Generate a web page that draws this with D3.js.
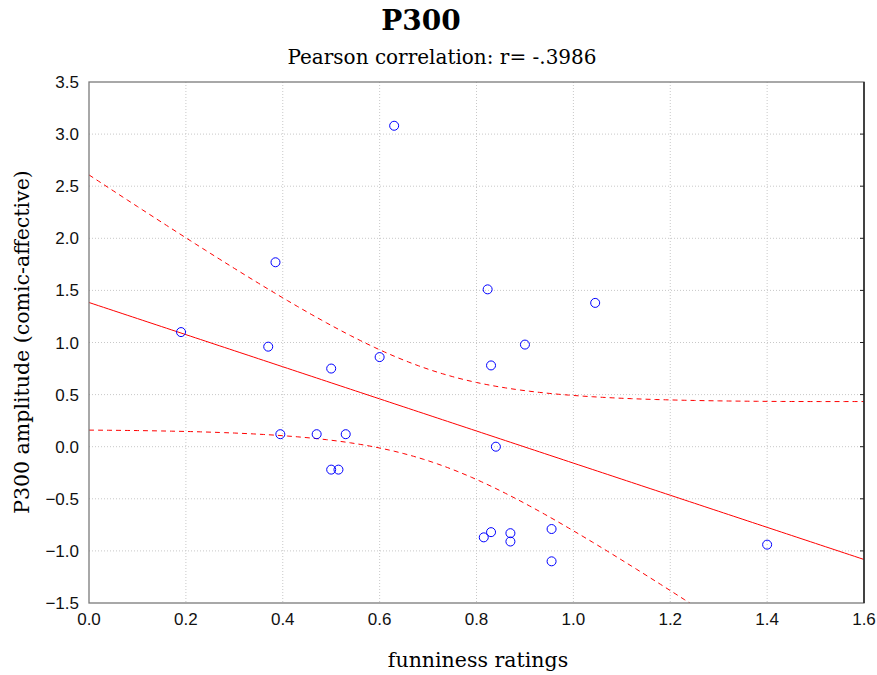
<!DOCTYPE html>
<html lang="en">
  <head>
    <meta charset="UTF-8" />
    <title>P300</title>
    <script src="https://cdn.jsdelivr.net/npm/d3@7"></script>
    <style>
      body { margin: 0; background: #fff; }
      svg { display: block; }
    </style>
  </head>
  <body>
    <svg width="877" height="675"></svg>
    <script>
      // funniness ratings (x) and P300 amplitude (y)
      const funniness = [0.19, 0.37, 0.385, 0.395, 0.47, 0.5, 0.5, 0.515, 0.53, 0.6, 0.63,
        0.815, 0.823, 0.83, 0.83, 0.84, 0.87, 0.87, 0.9, 0.955, 0.955, 1.045, 1.4];
      const amplitude = [1.1, 0.96, 1.77, 0.12, 0.12, 0.75, -0.22, -0.22, 0.12, 0.86, 3.08,
        -0.87, 1.51, -0.82, 0.78, 0.0, -0.83, -0.91, 0.98, -0.79, -1.1, 1.38, -0.94];
      const xTicks = [0, 0.2, 0.4, 0.6, 0.8, 1.0, 1.2, 1.4, 1.6];
      const yTicks = [-1.5, -1, -0.5, 0, 0.5, 1, 1.5, 2, 2.5, 3, 3.5];

      const margin = { top: 82, right: 13, bottom: 72, left: 89 };
      const width = 877 - margin.left - margin.right;
      const height = 675 - margin.top - margin.bottom;
      const svg = d3.select("svg");

      const x = d3.scaleLinear().domain([0, 1.6]).range([0, width]);
      const y = d3.scaleLinear().domain([-1.5, 3.5]).range([height, 0]);

      const g = svg.append("g").attr("transform", `translate(${margin.left},${margin.top})`);

      // grid
      g.selectAll(".gx").data(xTicks.slice(1, -1)).enter().append("line")
        .attr("x1", d => x(d)).attr("x2", d => x(d)).attr("y1", 0).attr("y2", height)
        .attr("stroke", "#c8c8c8").attr("stroke-dasharray", "1,2");
      g.selectAll(".gy").data(yTicks.slice(1, -1)).enter().append("line")
        .attr("y1", d => y(d)).attr("y2", d => y(d)).attr("x1", 0).attr("x2", width)
        .attr("stroke", "#c8c8c8").attr("stroke-dasharray", "1,2");

      // linear fit + 95% confidence band
      const n = funniness.length;
      const xm = d3.mean(funniness), ym = d3.mean(amplitude);
      let sxx = 0, sxy = 0;
      for (let i = 0; i < n; i++) {
        sxx += (funniness[i] - xm) ** 2;
        sxy += (funniness[i] - xm) * (amplitude[i] - ym);
      }
      const b = sxy / sxx, a = ym - b * xm;
      let sse = 0;
      for (let i = 0; i < n; i++) sse += (amplitude[i] - a - b * funniness[i]) ** 2;
      const s = Math.sqrt(sse / (n - 2));
      const tcrit = 2.0796; // df = 21
      const xs = d3.range(0, 1.6001, 0.01);
      const band = xs.map(v => {
        const se = s * Math.sqrt(1 / n + (v - xm) ** 2 / sxx);
        return { x: v, fit: a + b * v, lo: a + b * v - tcrit * se, hi: a + b * v + tcrit * se };
      });

      svg.append("clipPath").attr("id", "clip").append("rect")
        .attr("width", width).attr("height", height);
      const plot = g.append("g").attr("clip-path", "url(#clip)");

      const line = key => d3.line().x(d => x(d.x)).y(d => y(d[key]));
      plot.append("path").datum(band).attr("d", line("fit"))
        .attr("fill", "none").attr("stroke", "#ff0000").attr("stroke-width", 1);
      ["lo", "hi"].forEach(k => {
        plot.append("path").datum(band).attr("d", line(k))
          .attr("fill", "none").attr("stroke", "#ff0000").attr("stroke-width", 1)
          .attr("stroke-dasharray", "5,4");
      });

      // points
      g.selectAll("circle").data(funniness).enter().append("circle")
        .attr("cx", d => x(d)).attr("cy", (d, i) => y(amplitude[i]))
        .attr("r", 4.5).attr("fill", "none").attr("stroke", "#0000ff").attr("stroke-width", 1);

      // frame
      g.append("rect").attr("width", width).attr("height", height)
        .attr("fill", "none").attr("stroke", "#7a7a7a").attr("stroke-width", 1.3);
      g.append("line").attr("x1", width).attr("x2", width).attr("y1", 0).attr("y2", height)
        .attr("stroke", "#222").attr("stroke-width", 1.5);
      g.selectAll(".rt").data(yTicks.slice(1, -1)).enter().append("line")
        .attr("x1", width - 4).attr("x2", width).attr("y1", d => y(d)).attr("y2", d => y(d))
        .attr("stroke", "#222");

      // tick labels
      const tickFont = "'Liberation Sans', Arial, sans-serif";
      g.selectAll(".xl").data(xTicks).enter().append("text")
        .attr("x", d => x(d)).attr("y", height + 22).attr("text-anchor", "middle")
        .attr("font-family", tickFont).attr("font-size", 17).attr("fill", "#111")
        .text(d3.format(".1f"));
      g.selectAll(".yl").data(yTicks).enter().append("text")
        .attr("x", -10).attr("y", d => y(d) + 6).attr("text-anchor", "end")
        .attr("font-family", tickFont).attr("font-size", 17).attr("fill", "#111")
        .text(d3.format(".1f"));

      // titles
      const serif = "'DejaVu Serif', 'Liberation Serif', serif";
      svg.append("text").attr("x", 421).attr("y", 30).attr("text-anchor", "middle")
        .attr("font-family", serif).attr("font-weight", "bold").attr("font-size", 28)
        .text("P300");
      svg.append("text").attr("x", 442).attr("y", 64).attr("text-anchor", "middle")
        .attr("font-family", serif).attr("font-size", 20)
        .text("Pearson correlation: r= -.3986");
      svg.append("text").attr("x", 478).attr("y", 667).attr("text-anchor", "middle")
        .attr("font-family", serif).attr("font-size", 20.5)
        .text("funniness ratings");
      svg.append("text").attr("transform", `translate(29,${342}) rotate(-90)`)
        .attr("text-anchor", "middle")
        .attr("font-family", serif).attr("font-size", 20.5)
        .text("P300 amplitude (comic-affective)");
    </script>
  </body>
</html>
